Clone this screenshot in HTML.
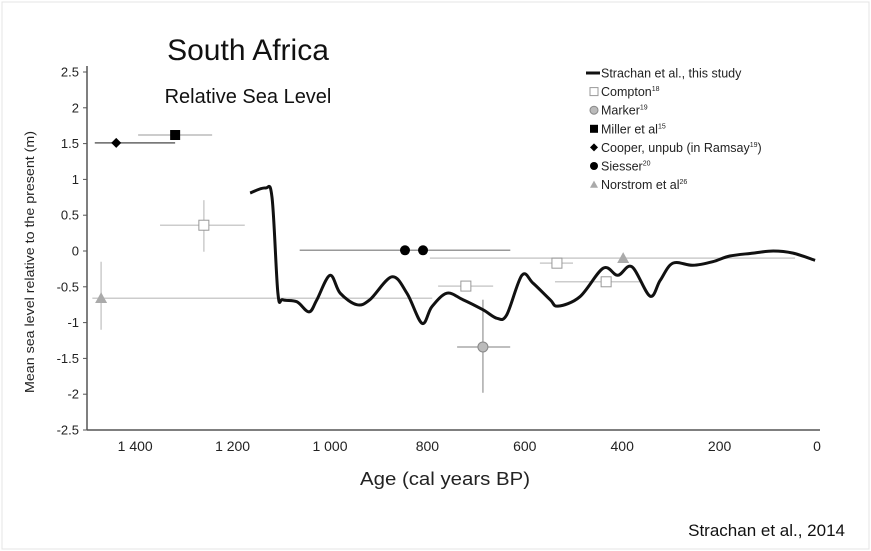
<!DOCTYPE html>
<html><head><meta charset="utf-8"><style>
html,body{margin:0;padding:0;background:#fff;}
svg{display:block;font-family:"Liberation Sans",sans-serif;}
</style></head><body>
<svg width="871" height="551" viewBox="0 0 871 551">
<rect x="2" y="2" width="867" height="547" fill="#fff" stroke="#e4e4e4"/>
<text x="248" y="60" font-size="30" text-anchor="middle" fill="#111">South Africa</text>
<text x="248" y="103" font-size="20" text-anchor="middle" fill="#111">Relative Sea Level</text>
<text transform="translate(34,262) rotate(-90)" font-size="12.5" text-anchor="middle" textLength="262" lengthAdjust="spacingAndGlyphs" fill="#222">Mean sea level relative to the present (m)</text>
<text x="445" y="485" font-size="18" text-anchor="middle" textLength="170" lengthAdjust="spacingAndGlyphs" fill="#222">Age (cal years BP)</text>
<text x="845" y="536" font-size="17" text-anchor="end" fill="#111">Strachan et al., 2014</text>
<g id="axes"></g>
<g id="marks"></g>
<g id="legend"></g>
</svg>
<script>
const yTicks=[2.5,2,1.5,1,0.5,0,-0.5,-1,-1.5,-2,-2.5];
const xTicks=[1400,1200,1000,800,600,400,200,0];
const xTickLabels=["1 400","1 200","1 000","800","600","400","200","0"];
const curveAge=[1164,1133,1119,1107,1097,1068,1043,1027,1000,979,945,918,873,842,811,791,760,727,686,657,637,606,583,548,532,487,439,409,380,343,322,296,255,214,179,131,90,49,4];
const curveVal=[0.81,0.88,0.75,-0.59,-0.68,-0.71,-0.85,-0.68,-0.34,-0.59,-0.75,-0.68,-0.36,-0.59,-1.01,-0.78,-0.59,-0.68,-0.82,-0.94,-0.89,-0.34,-0.45,-0.68,-0.77,-0.64,-0.24,-0.34,-0.22,-0.63,-0.41,-0.17,-0.2,-0.15,-0.07,-0.03,0,-0.03,-0.13];
// points: [age, value, ageMin, ageMax, valMin, valMax]
const compton=[[1259,0.36,1349,1175,0.71,-0.01],[721,-0.49,778,665,-0.49,-0.49],[534,-0.17,569,501,-0.17,-0.17],[433,-0.43,538,363,-0.43,-0.43]];
const marker=[[686,-1.34,739,630,-0.68,-1.98]];
const miller=[[1318,1.62,1394,1242,1.62,1.62]];
const cooper=[[1439,1.51,1483,1318,1.51,1.51]];
const siesser=[[846,0.01,1062,630,0.01,0.01],[809,0.01,1062,630,0.01,0.01]];
const norstrom=[[1470,-0.66,1488,790,-0.15,-1.1],[398,-0.1,795,45,-0.1,-0.1]];
const X=a=>817-a*0.487;
const Y=v=>251-v*71.6;
const NS="http://www.w3.org/2000/svg";
function mk(p,t,a){const e=document.createElementNS(NS,t);for(const k in a)e.setAttribute(k,a[k]);p.appendChild(e);return e;}
const ax=document.getElementById('axes'),mg=document.getElementById('marks'),lg=document.getElementById('legend');
let l=mk(ax,'line',{x1:87,y1:66,x2:87,y2:430,stroke:'#555','stroke-width':1.5});


l=mk(ax,'line',{x1:87,y1:430,x2:820,y2:430,stroke:'#555','stroke-width':1.5});


yTicks.forEach(v=>{mk(ax,'line',{x1:83,y1:Y(v),x2:87,y2:Y(v),stroke:'#555'});
const t=mk(ax,'text',{x:79,y:Y(v)+4.5,'font-size':13,'text-anchor':'end',fill:'#222'});t.textContent=String(v);

});
xTicks.forEach((a,i)=>{const t=mk(ax,'text',{x:X(a),y:451,'font-size':14,'text-anchor':'middle',fill:'#222'});t.textContent=xTickLabels[i];

});
function errs(arr,col,name){arr.forEach(p=>{
 const g=mk(mg,'g',{});
 
 
 mk(g,'line',{x1:X(p[2]),y1:Y(p[1]),x2:X(p[3]),y2:Y(p[1]),stroke:col,'stroke-width':1.5});
 if(p[4]!==p[5])mk(g,'line',{x1:X(p[0]),y1:Y(p[4]),x2:X(p[0]),y2:Y(p[5]),stroke:col,'stroke-width':1.5});});}
errs(norstrom,'#ccc','norstrom-point');errs(compton,'#ccc','compton-point');errs(marker,'#aaa','marker-point');
errs(siesser,'#999','siesser-point');errs(miller,'#bbb','miller-point');errs(cooper,'#666','cooper-point');
const pts=curveAge.map((a,i)=>[X(a),Y(curveVal[i])]);
let d='M'+pts[0][0].toFixed(1)+','+pts[0][1].toFixed(1);
for(let i=0;i<pts.length-1;i++){const p0=pts[Math.max(0,i-1)],p1=pts[i],p2=pts[i+1],p3=pts[Math.min(pts.length-1,i+2)];
 const c1=[p1[0]+(p2[0]-p0[0])/6,p1[1]+(p2[1]-p0[1])/6],c2=[p2[0]-(p3[0]-p1[0])/6,p2[1]-(p3[1]-p1[1])/6];
 d+=`C${c1[0].toFixed(1)},${c1[1].toFixed(1)} ${c2[0].toFixed(1)},${c2[1].toFixed(1)} ${p2[0].toFixed(1)},${p2[1].toFixed(1)}`;}
const path=mk(mg,'path',{d:d,fill:'none',stroke:'#111','stroke-width':3,'stroke-linejoin':'round'});


function sym(p,type,x,y,s){
 if(type==='sq')mk(p,'rect',{x:x-s,y:y-s,width:2*s,height:2*s,fill:'#fff',stroke:'#999'});
 if(type==='fsq')mk(p,'rect',{x:x-s,y:y-s,width:2*s,height:2*s,fill:'#000'});
 if(type==='circ')mk(p,'circle',{cx:x,cy:y,r:s,fill:'#bbb',stroke:'#888'});
 if(type==='dia')mk(p,'path',{d:`M${x-s},${y}L${x},${y-s}L${x+s},${y}L${x},${y+s}Z`,fill:'#000'});
 if(type==='bc')mk(p,'circle',{cx:x,cy:y,r:s,fill:'#000'});
 if(type==='tri')mk(p,'path',{d:`M${x},${y-s}L${x+s},${y+s*0.8}L${x-s},${y+s*0.8}Z`,fill:'#aaa'});}
compton.forEach(p=>sym(mg,'sq',X(p[0]),Y(p[1]),5));
marker.forEach(p=>sym(mg,'circ',X(p[0]),Y(p[1]),5));
miller.forEach(p=>sym(mg,'fsq',X(p[0]),Y(p[1]),5));
cooper.forEach(p=>sym(mg,'dia',X(p[0]),Y(p[1]),5));
siesser.forEach(p=>sym(mg,'bc',X(p[0]),Y(p[1]),5));
norstrom.forEach(p=>sym(mg,'tri',X(p[0]),Y(p[1]),6));
const leg=[['line','Strachan et al., this study',''],['sq','Compton','18'],['circ','Marker','19'],['fsq','Miller et al','15'],['dia','Cooper, unpub (in Ramsay',"19)"],['bc','Siesser','20'],['tri','Norstrom et al','26']];
leg.forEach((e,i)=>{const y=73+i*18.6;const g=mk(lg,'g',{});
 
 
 if(e[0]==='line')mk(g,'line',{x1:586,y1:y,x2:600,y2:y,stroke:'#111','stroke-width':3});else sym(g,e[0],594,y,4);
 const t=mk(g,'text',{x:601,y:y+4.5,'font-size':12.5,fill:'#222'});t.textContent=e[1];
 if(e[2]){const s=mk(g,'tspan',{'font-size':7,dy:-5});s.textContent=e[2].replace(')','');
  if(e[2].includes(')')){const s2=mk(g,'tspan',{dy:5});s2.textContent=')';t.appendChild(s);t.appendChild(s2);}else t.appendChild(s);}});
</script>
</body></html>
